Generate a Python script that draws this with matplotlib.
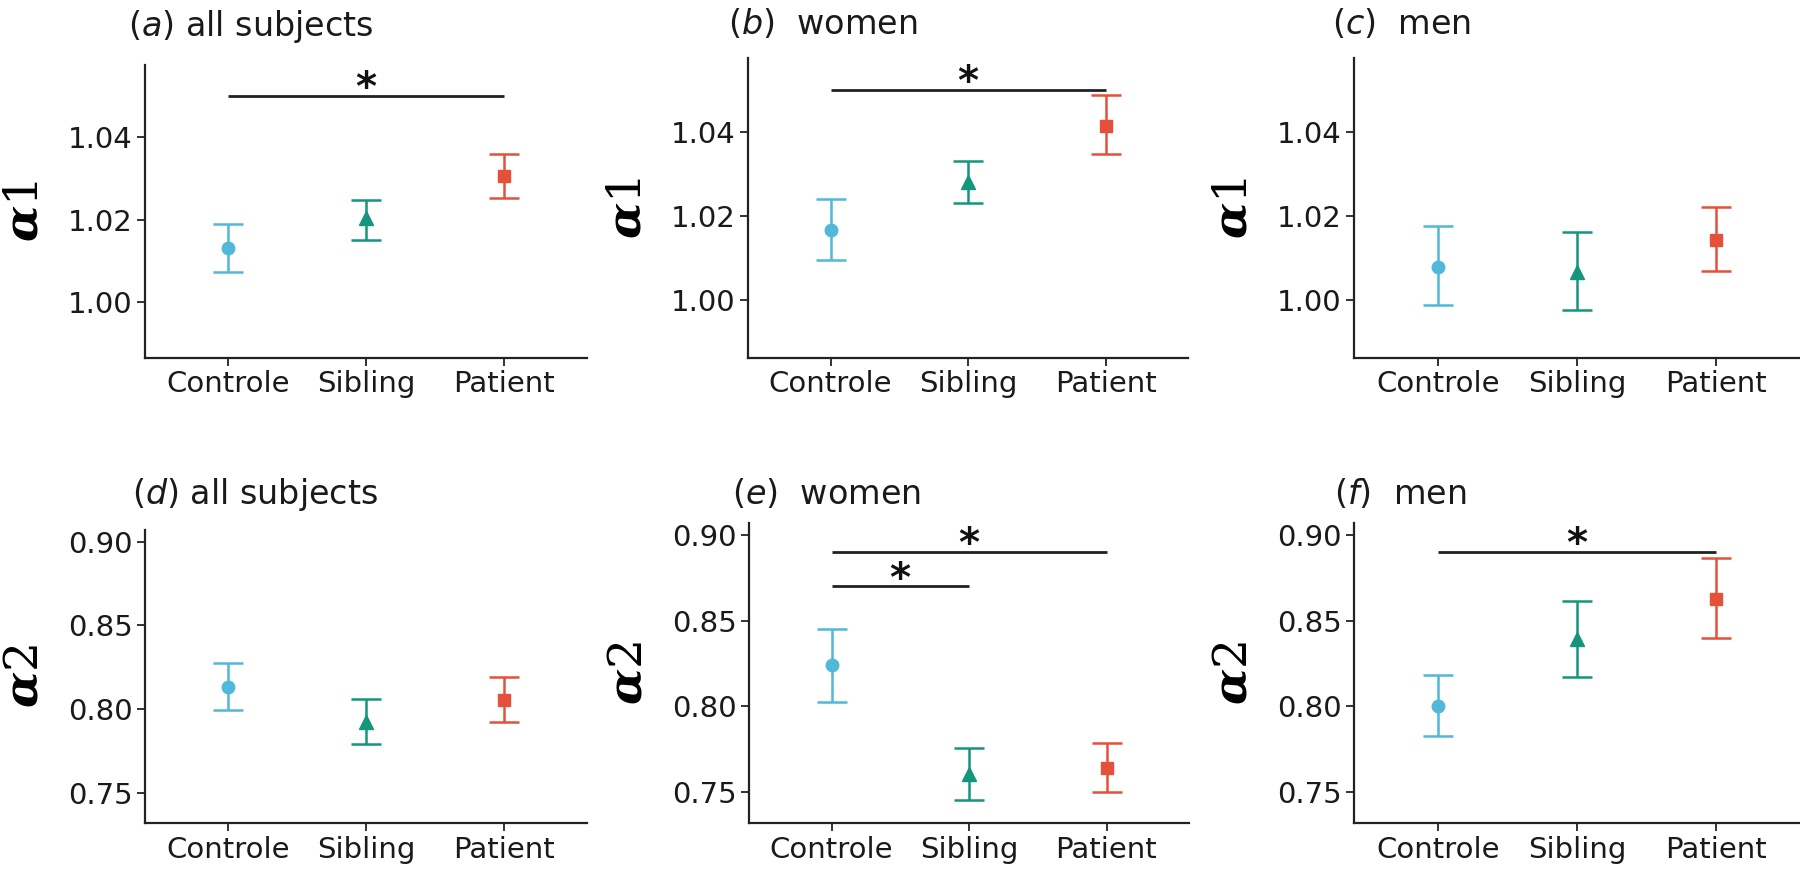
import numpy as np
import matplotlib
matplotlib.use("Agg")
import matplotlib.pyplot as plt

plt.rcParams['font.family'] = ['DejaVu Sans']
plt.rcParams['mathtext.fontset'] = 'custom'
plt.rcParams['mathtext.it'] = 'DejaVu Sans:italic'
plt.rcParams['mathtext.rm'] = 'DejaVu Sans'

groups = ['Controle', 'Sibling', 'Patient']
colors = ['#50b8d8', '#14967c', '#e5503a']
markers = ['o', '^', 's']
msizes = [9, 10, 8.5]

# alpha1
a1_all_mean = [1.0131, 1.0204, 1.0307]
a1_all_lo = [1.0072, 1.0151, 1.0252]
a1_all_hi = [1.0189, 1.0248, 1.0359]
a1_women_mean = [1.0167, 1.0282, 1.0415]
a1_women_lo = [1.0095, 1.0232, 1.0347]
a1_women_hi = [1.0241, 1.0332, 1.0487]
a1_men_mean = [1.0080, 1.0068, 1.0144]
a1_men_lo = [0.9988, 0.9976, 1.0070]
a1_men_hi = [1.0176, 1.0163, 1.0222]
# alpha2
a2_all_mean = [0.8135, 0.7926, 0.8055]
a2_all_lo = [0.7996, 0.7792, 0.7923]
a2_all_hi = [0.8277, 0.8060, 0.8194]
a2_women_mean = [0.8240, 0.7607, 0.7639]
a2_women_lo = [0.8025, 0.7456, 0.7503]
a2_women_hi = [0.8454, 0.7756, 0.7786]
a2_men_mean = [0.8002, 0.8396, 0.8625]
a2_men_lo = [0.7826, 0.8171, 0.8401]
a2_men_hi = [0.8185, 0.8614, 0.8867]

# significance brackets: (from group, to group, y)
sig_a = [(0, 2, 1.05)]
sig_b = [(0, 2, 1.05)]
sig_e = [(0, 2, 0.89), (0, 1, 0.87)]
sig_f = [(0, 2, 0.89)]

a1_ticks = [1.00, 1.02, 1.04]
a2_ticks = [0.75, 0.80, 0.85, 0.90]
a1_ylim = (0.9863, 1.0576)
a2_ylim = (0.7320, 0.9070)

W, H = 1800, 875
fig = plt.figure(figsize=(18, 8.75), dpi=100)


def px_ax(left, right, top, bottom):
    return fig.add_axes([left / W, 1 - bottom / H, (right - left) / W, (bottom - top) / H])


panels = [
    # letter, label, mean, lo, hi, sig, box(px), ylim, ticks, ylabel idx, title pos(px)
    ('a', ' all subjects', a1_all_mean, a1_all_lo, a1_all_hi, sig_a,
     (145, 587, 65, 358), a1_ylim, a1_ticks, '1', (128, 36)),
    ('b', '  women', a1_women_mean, a1_women_lo, a1_women_hi, sig_b,
     (748, 1188, 58, 358), a1_ylim, a1_ticks, '1', (728, 34)),
    ('c', '  men', a1_men_mean, a1_men_lo, a1_men_hi, [],
     (1354, 1800, 58, 358), a1_ylim, a1_ticks, '1', (1332, 34)),
    ('d', ' all subjects', a2_all_mean, a2_all_lo, a2_all_hi, [],
     (145, 587, 530, 823), a2_ylim, a2_ticks, '2', (132, 504)),
    ('e', '  women', a2_women_mean, a2_women_lo, a2_women_hi, sig_e,
     (749, 1189, 523, 823), a2_ylim, a2_ticks, '2', (732, 504)),
    ('f', '  men', a2_men_mean, a2_men_lo, a2_men_hi, sig_f,
     (1354, 1800, 523, 823), a2_ylim, a2_ticks, '2', (1334, 504)),
]

for letter, label, mean, lo, hi, sig, box, ylim, ticks, idx, tpos in panels:
    ax = px_ax(*box)
    x = np.arange(1, len(groups) + 1)
    mean = np.array(mean)
    lo = np.array(lo)
    hi = np.array(hi)
    for i in range(len(groups)):
        ax.errorbar(x[i], mean[i], yerr=[[mean[i] - lo[i]], [hi[i] - mean[i]]],
                    fmt=markers[i], color=colors[i], ms=msizes[i], elinewidth=1.8,
                    capsize=10.5, capthick=1.8, zorder=3)
    for g0, g1, yv in sig:
        ax.plot([x[g0], x[g1]], [yv, yv], color='#222222', lw=2.0, solid_capstyle='butt', zorder=2)
        ax.annotate('*', xy=((x[g0] + x[g1]) / 2, yv), xytext=(0, -3), textcoords='offset points',
                    ha='center', va='baseline', fontsize=29, fontweight='bold', color='#111111')
    ax.set_xlim(0.4, 3.6)
    ax.set_ylim(*ylim)
    ax.set_xticks(x)
    ax.set_xticklabels(groups)
    ax.set_yticks(ticks)
    ax.set_yticklabels(['%.2f' % t for t in ticks])
    for s in ['top', 'right']:
        ax.spines[s].set_visible(False)
    for s in ['left', 'bottom']:
        ax.spines[s].set_linewidth(1.6)
        ax.spines[s].set_color('#222222')
    ax.tick_params(axis='both', length=6, width=1.4, color='#333333', labelsize=21,
                   labelcolor='#1a1a1a', pad=3)
    # y label
    left, right, top, bottom = box
    fig.text((left - 120) / W, 1 - ((top + bottom) / 2) / H, r'$\mathbfit{\alpha}$' + idx,
             rotation=90, ha='center', va='center', fontsize=34,
             math_fontfamily='dejavuserif', family='DejaVu Serif')
    # title
    fig.text(tpos[0] / W, 1 - tpos[1] / H, '($\\mathit{%s}$)%s' % (letter, label),
             ha='left', va='baseline', fontsize=24, color='#1a1a1a')

fig.savefig('out.png', dpi=100, facecolor='white')
